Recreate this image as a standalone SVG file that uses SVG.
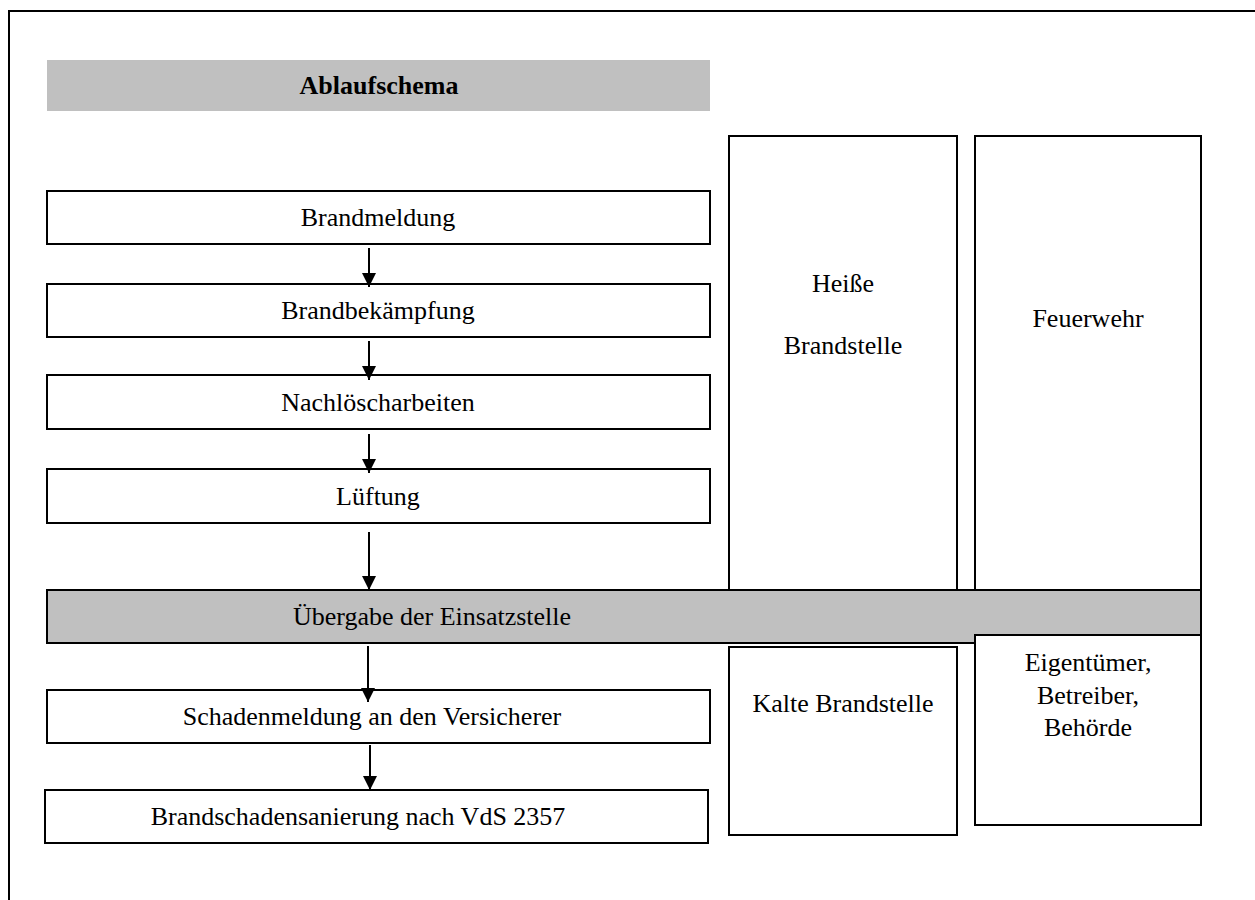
<svg xmlns="http://www.w3.org/2000/svg" width="1255" height="900" viewBox="0 0 1255 900">
<defs>
<style>
.box{fill:#fff;stroke:#000;stroke-width:2}
.gray{fill:#c0c0c0;stroke:#000;stroke-width:2}
.t{font-family:"Liberation Serif","Times New Roman",serif;font-size:26px;fill:#000;text-anchor:middle}
.b{font-weight:bold}
.conn{stroke:#000;stroke-width:2;fill:none;marker-end:url(#ah)}
</style>
<marker id="ah" markerWidth="14" markerHeight="15" refX="14" refY="7" orient="auto" markerUnits="userSpaceOnUse">
<path d="M0,0 L14,7 L0,14 Z" fill="#000"/>
</marker>
</defs>
<rect width="1255" height="900" fill="#fff"/>
<g id="frame"><path d="M9,900 L9,11 L1255,11" fill="none" stroke="#000" stroke-width="2"/></g>

<g id="title"><rect x="47" y="60" width="663" height="51" fill="#c0c0c0"/><text class="t b" x="379" y="94">Ablaufschema</text></g>

<g id="heisse"><rect class="box" x="729" y="136" width="228" height="455"/><text class="t" x="843" y="292">Heiße</text><text class="t" x="843" y="354">Brandstelle</text></g>
<g id="feuerwehr"><rect class="box" x="975" y="136" width="226" height="455"/><text class="t" x="1088" y="327">Feuerwehr</text></g>

<g id="n1"><rect class="box" x="47" y="191" width="663" height="53"/><text class="t" x="378" y="226">Brandmeldung</text></g>
<g id="n2"><rect class="box" x="47" y="284" width="663" height="53"/><text class="t" x="378" y="319">Brandbekämpfung</text></g>
<g id="n3"><rect class="box" x="47" y="375" width="663" height="54"/><text class="t" x="378" y="411">Nachlöscharbeiten</text></g>
<g id="n4"><rect class="box" x="47" y="469" width="663" height="54"/><text class="t" x="378" y="505">Lüftung</text></g>

<g id="uebergabe"><rect class="gray" x="47" y="590" width="1154" height="53"/><text class="t" x="432" y="625">Übergabe der Einsatzstelle</text></g>

<g id="kalte"><rect class="box" x="729" y="647" width="228" height="188"/><text class="t" x="843" y="712">Kalte Brandstelle</text></g>
<g id="eigentuemer"><rect class="box" x="975" y="635" width="226" height="190"/><text class="t" x="1088" y="671">Eigentümer,</text><text class="t" x="1088" y="704">Betreiber,</text><text class="t" x="1088" y="736">Behörde</text></g>

<g id="n5"><rect class="box" x="47" y="690" width="663" height="53"/><text class="t" x="372" y="725">Schadenmeldung an den Versicherer</text></g>
<g id="n6"><rect class="box" x="45" y="790" width="663" height="53"/><text class="t" x="358" y="825">Brandschadensanierung nach VdS 2357</text></g>

<g id="connectors">
<line class="conn" x1="369" y1="248" x2="369" y2="287"/>
<line class="conn" x1="369" y1="341" x2="369" y2="380"/>
<line class="conn" x1="369" y1="434" x2="369" y2="473"/>
<line class="conn" x1="369" y1="532" x2="369" y2="590"/>
<line class="conn" x1="368" y1="646" x2="368" y2="702"/>
<line class="conn" x1="370" y1="745" x2="370" y2="790"/>
</g>
</svg>
